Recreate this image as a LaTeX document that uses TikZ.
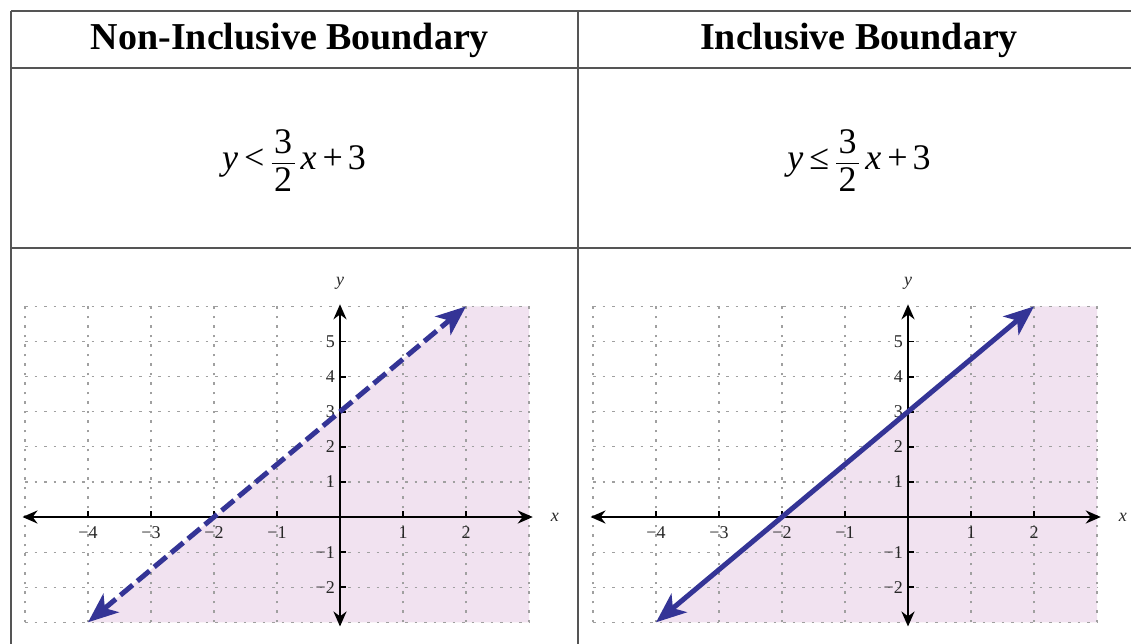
\documentclass[tikz,border=0pt]{standalone}
\usepackage{amsmath}
\usepackage{fontspec}
\setmainfont{Liberation Serif}
\usetikzlibrary{arrows.meta}
\definecolor{shadec}{RGB}{241,226,240}
\definecolor{bline}{RGB}{52,52,150}
\definecolor{tline}{RGB}{85,85,85}
\definecolor{gridc}{RGB}{160,160,160}
\definecolor{lblc}{RGB}{40,40,40}
\tikzset{
  tbl/.style={draw=tline, line width=2pt},
  gridline/.style={draw=gridc, line width=1.2pt, dash pattern=on 2.5pt off 7pt},
  axisline/.style={draw=black, line width=2.8pt, {Stealth[length=15pt,width=13pt]}-{Stealth[length=15pt,width=13pt]}},
  tickmark/.style={draw=black, line width=1.8pt},
  ticklbl/.style={font=\fontsize{18}{20}\selectfont, text=lblc, inner sep=0pt},
  axlbl/.style={font=\fontsize{18}{20}\selectfont\itshape, text=lblc, inner sep=0pt},
  bdash/.style={draw=bline, line width=5pt, dash pattern=on 16pt off 6pt},
  bsolid/.style={draw=bline, line width=5pt},
  barrow/.style={{Stealth[length=30pt,width=24pt,inset=8pt]}-{Stealth[length=30pt,width=24pt,inset=8pt]}},
  headtxt/.style={font=\fontsize{38}{44}\selectfont\bfseries, inner sep=0pt, anchor=base},
  eqtxt/.style={font=\fontsize{36}{42}\selectfont, inner sep=0pt, anchor=base},
}
\newcommand\drawpanel[3]{%
\begin{scope}[shift={(#1pt,-517pt)}, x=63pt, y=35.1pt]
  \fill[shadec] (-4,-3) -- (2,6) -- (3,6) -- (3,-3) -- cycle;
  \foreach \i in {-5,...,3} \draw[gridline] (\i,-3) -- (\i,6);
  \foreach \j in {-3,...,6} \draw[gridline] (-5,\j) -- (3,\j);
  \foreach \i/\t/\n in {-4/−4/a,-3/−3/b,-2/−2/c,-1/−1/d,1/1/e,2/2/f}{
    \draw[tickmark] (\i,0) -- ++(0pt,6pt);
    \node[ticklbl, anchor=north] (#2x\n) at ([yshift=-9pt]\i,0) {\t};
  }
  \foreach \j/\t/\n in {5/5/a,4/4/b,3/3/c,2/2/d,1/1/e,-1/−1/f,-2/−2/g}{
    \draw[tickmark] (0,\j) -- ++(6pt,0pt);
    \node[ticklbl, anchor=east] (#2y\n) at ([xshift=-5pt]0,\j) {\t};
  }
  \coordinate (#2xa) at (-5.04,0); \coordinate (#2xb) at (3.06,0);
  \coordinate (#2ya) at (0,6.06); \coordinate (#2yb) at (0,-3.12);
  \draw[axisline] (#2xa) -- (#2xb);
  \draw[axisline] (#2yb) -- (#2ya);
  \node[axlbl] (#2xl) at (3.41,0) {x};
  \node[axlbl] (#2yl) at (0,6.67) {y};
  \coordinate (#2lo) at (-4,-3); \coordinate (#2hi) at (2,6);
  \draw[#3, barrow] (#2lo) -- (#2hi);
\end{scope}}
\newcommand\eqfrac{$\displaystyle\frac{\hspace{2.5pt}\text{3}\hspace{2.5pt}}{\text{2}}$}
\begin{document}
\begin{tikzpicture}[x=1pt, y=-1pt]
\useasboundingbox (0,0) rectangle (1131,644);
\fill[white] (0,0) rectangle (1131,644);
% table
\coordinate (tl) at (11,11); \coordinate (tr) at (1131,11);
\coordinate (hl) at (11,68); \coordinate (hr) at (1131,68);
\coordinate (rl) at (11,248); \coordinate (rr) at (1131,248);
\coordinate (bl) at (11,644);
\coordinate (mt) at (578,11); \coordinate (mb) at (578,644);
\draw[tbl] (tl) -- (tr);
\draw[tbl] (hl) -- (hr);
\draw[tbl] (rl) -- (rr);
\draw[tbl] (tl) -- (bl);
\draw[tbl] (mt) -- (mb);
% headers
\node[headtxt] (h1) at (290,50) {Non-Inclusive Boundary};
\node[headtxt] (h2) at (859,50) {Inclusive Boundary};
% equations
\node[eqtxt] (e1) at (294,170) {\textit{y}\hspace{6pt}<\hspace{6pt}\eqfrac\hspace{5pt}\textit{x}\hspace{6pt}+\hspace{5pt}3};
\node[eqtxt] (e2) at (859,170) {\textit{y}\hspace{6pt}≤\hspace{6pt}\eqfrac\hspace{5pt}\textit{x}\hspace{6pt}+\hspace{5pt}3};
% plots
\drawpanel{340}{L}{bdash}
\drawpanel{908}{R}{bsolid}
\end{tikzpicture}
\end{document}
